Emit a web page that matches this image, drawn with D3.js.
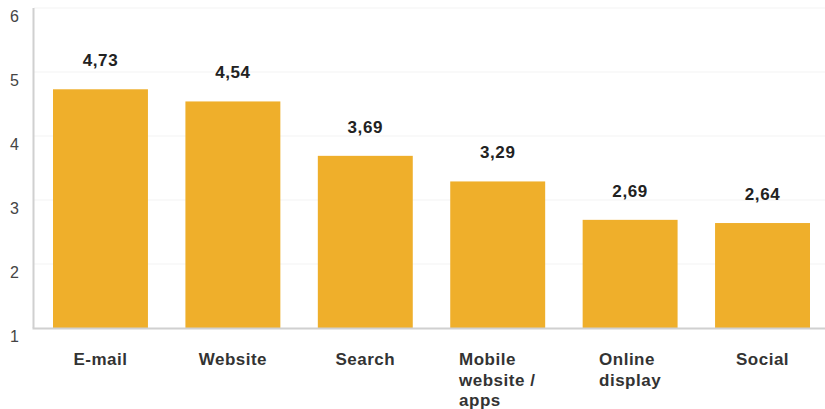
<!DOCTYPE html>
<html>
<head>
<meta charset="utf-8">
<script src="https://cdn.jsdelivr.net/npm/d3@7"></script>
<style>
  html, body { margin: 0; padding: 0; background: #fff; }
  svg { display: block; font-family: "Liberation Sans", Arial, sans-serif; }
</style>
</head>
<body>
<svg id="chart" width="825" height="409"></svg>
<script>
// Channel ratings
const categories = [["E-mail"], ["Website"], ["Search"], ["Mobile", "website /", "apps"], ["Online", "display"], ["Social"]];
const values = [4.73, 4.54, 3.69, 3.29, 2.69, 2.64];
const valueLabels = ["4,73", "4,54", "3,69", "3,29", "2,69", "2,64"];
const yTicks = [1, 2, 3, 4, 5, 6];

const svg = d3.select("#chart");
const plotLeft = 34, plotRight = 829, plotTop = 8, plotBottom = 328;

const x = d3.scaleBand()
  .domain(d3.range(categories.length))
  .range([plotLeft, plotRight])
  .paddingInner(0.283)
  .paddingOuter(0.1435);

const y = d3.scaleLinear().domain([1, 6]).range([plotBottom, plotTop]);

// gridlines
svg.append("g").selectAll("line")
  .data(yTicks.filter(d => d > 1))
  .join("line")
  .attr("x1", plotLeft).attr("x2", 825)
  .attr("y1", d => y(d)).attr("y2", d => y(d))
  .attr("stroke", "#f3f3f3").attr("stroke-width", 1);

// y tick labels
svg.append("g").selectAll("text")
  .data(yTicks)
  .join("text")
  .attr("x", 19)
  .attr("y", d => y(d) + 14)
  .attr("text-anchor", "end")
  .attr("font-size", 16)
  .attr("fill", "#444")
  .text(d => d);

// bars
svg.append("g").selectAll("rect")
  .data(values)
  .join("rect")
  .attr("x", (d, i) => x(i))
  .attr("width", x.bandwidth())
  .attr("y", d => y(d))
  .attr("height", d => plotBottom - y(d))
  .attr("fill", "#efaf2b");

// axis lines
svg.append("line")
  .attr("x1", plotLeft - 0.5).attr("x2", plotLeft - 0.5)
  .attr("y1", plotTop).attr("y2", plotBottom)
  .attr("stroke", "#d0d0d0").attr("stroke-width", 2);
svg.append("line")
  .attr("x1", plotLeft - 1.5).attr("x2", 825)
  .attr("y1", plotBottom + 0.5).attr("y2", plotBottom + 0.5)
  .attr("stroke", "#d0d0d0").attr("stroke-width", 2);

// value labels
svg.append("g").selectAll("text")
  .data(values)
  .join("text")
  .attr("x", (d, i) => x(i) + x.bandwidth() / 2)
  .attr("y", d => y(d) - 23)
  .attr("text-anchor", "middle")
  .attr("font-size", 17)
  .attr("font-weight", "bold")
  .attr("fill", "#222")
  .attr("letter-spacing", 0.6)
  .text((d, i) => valueLabels[i]);

// category labels: multi-line block centred under each bar, lines left-aligned
const catG = svg.append("g").selectAll("g")
  .data(categories)
  .join("g");

catG.each(function(lines, i) {
  const g = d3.select(this);
  const t = g.append("text")
    .attr("font-size", 17)
    .attr("font-weight", "bold")
    .attr("fill", "#333")
    .attr("letter-spacing", 0.5);
  lines.forEach((ln, k) => {
    t.append("tspan").attr("x", 0).attr("y", 365 + k * 20.5).text(ln);
  });
  const w = t.node().getBBox().width;
  g.attr("transform", `translate(${x(i) + x.bandwidth() / 2 - w / 2},0)`);
});
</script>
</body>
</html>
